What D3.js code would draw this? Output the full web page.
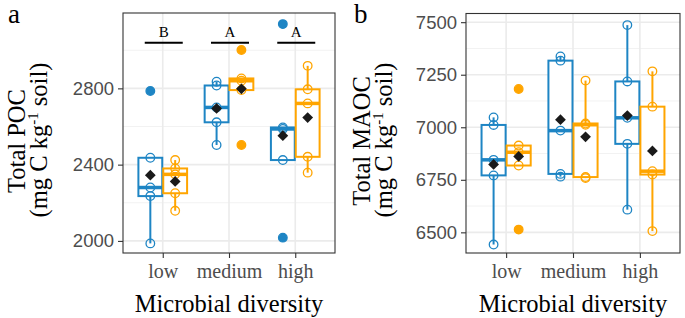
<!DOCTYPE html>
<html>
<head>
<meta charset="utf-8">
<script src="https://cdn.jsdelivr.net/npm/d3@7"></script>
<style>
  body { margin: 0; background: #fff; }
  svg { display: block; }
</style>
</head>
<body>
<svg id="chart" width="685" height="318"></svg>
<script>
const diversity = ["low", "medium", "high"];

// five replicates per box
const pocBlue = [[2436, 2280, 2235, 1987, 2786], [2835, 2815, 2700, 2622, 2503], [2017, 2424, 2587, 2595, 3137]];
const pocOrange = [[2424, 2380, 2349, 2250, 2158], [3001, 2852, 2840, 2791, 2503], [2918, 2795, 2721, 2441, 2358]];
const maocBlue = [[7047, 7011, 6845, 6771, 6442], [7337, 7317, 6984, 6778, 6765], [7486, 7218, 7045, 6921, 6608]];
const maocOrange = [[6513, 6818, 6881, 6913, 7182], [7222, 7018, 7012, 6763, 6758], [7266, 7098, 6791, 6775, 6506]];

const pocLetters = ["B", "A", "A"];
const pocTicks = [2000, 2400, 2800];
const maocTicks = [6500, 6750, 7000, 7250, 7500];

const blue = "#1e85c4";
const orange = "#ffa500";
const svg = d3.select("#chart");

function boxStats(vals) {
    var s = vals.slice().sort(d3.ascending);
    var q1 = d3.quantile(s, 0.25), med = d3.quantile(s, 0.5), q3 = d3.quantile(s, 0.75);
    var iqr = q3 - q1;
    var inside = s.filter(function(v) { return v >= q1 - 1.5 * iqr && v <= q3 + 1.5 * iqr; });
    return {
        q1: q1, med: med, q3: q3,
        lo: d3.min(inside), hi: d3.max(inside),
        out: s.filter(function(v) { return v < q1 - 1.5 * iqr || v > q3 + 1.5 * iqr; }),
        mean: d3.mean(s),
        vals: s
    };
}

function drawPanel(opt) {
    var x = d3.scalePoint().domain(diversity).range([opt.left, opt.right]).padding(0.6);
    var y = d3.scaleLinear().domain(opt.yDomain).range([opt.bottom, opt.top]);
    var step = x.step();
    var g = svg.append("g");

    // grid
    var minor = d3.range(opt.ticks.length - 1).map(function(i) { return (opt.ticks[i] + opt.ticks[i + 1]) / 2; });
    var extra = opt.ticks[opt.ticks.length - 1] + (opt.ticks[1] - opt.ticks[0]) / 2;
    if (y(extra) > opt.top) minor.push(extra);
    g.selectAll(".minor").data(minor).enter().append("line")
        .attr("x1", opt.left).attr("x2", opt.right)
        .attr("y1", function(d) { return y(d); }).attr("y2", function(d) { return y(d); })
        .attr("stroke", "#f2f2f2").attr("stroke-width", 1);
    g.selectAll(".major").data(opt.ticks).enter().append("line")
        .attr("x1", opt.left).attr("x2", opt.right)
        .attr("y1", function(d) { return y(d); }).attr("y2", function(d) { return y(d); })
        .attr("stroke", "#ebebeb").attr("stroke-width", 1.6);
    g.selectAll(".vmajor").data(diversity).enter().append("line")
        .attr("x1", function(d) { return x(d); }).attr("x2", function(d) { return x(d); })
        .attr("y1", opt.top).attr("y2", opt.bottom)
        .attr("stroke", "#ebebeb").attr("stroke-width", 1.6);

    var series = [{ data: opt.blue, color: blue, off: -0.1875 }, { data: opt.orange, color: orange, off: 0.1875 }];
    var boxW = step * 0.36;

    series.forEach(function(s) {
        var stats = s.data.map(boxStats);
        stats.forEach(function(st, i) {
            var cx = x(diversity[i]) + s.off * step;
            var bg = g.append("g");
            bg.append("line").attr("x1", cx).attr("x2", cx)
                .attr("y1", y(st.q3)).attr("y2", y(st.hi))
                .attr("stroke", s.color).attr("stroke-width", 2);
            bg.append("line").attr("x1", cx).attr("x2", cx)
                .attr("y1", y(st.q1)).attr("y2", y(st.lo))
                .attr("stroke", s.color).attr("stroke-width", 2);
            bg.append("rect")
                .attr("x", cx - boxW / 2).attr("width", boxW)
                .attr("y", y(st.q3)).attr("height", y(st.q1) - y(st.q3))
                .attr("fill", "#fff").attr("stroke", s.color).attr("stroke-width", 2);
            bg.append("line").attr("x1", cx - boxW / 2).attr("x2", cx + boxW / 2)
                .attr("y1", y(st.med)).attr("y2", y(st.med))
                .attr("stroke", s.color).attr("stroke-width", 3.5);
            bg.selectAll(".out").data(st.out).enter().append("circle")
                .attr("cx", cx).attr("cy", function(d) { return y(d); })
                .attr("r", 4.3).attr("fill", s.color);
            bg.selectAll(".pt").data(st.vals).enter().append("circle")
                .attr("cx", cx).attr("cy", function(d) { return y(d); })
                .attr("r", 4.3).attr("fill", "none")
                .attr("stroke", s.color).attr("stroke-width", 1.3);
            bg.append("path")
                .attr("d", d3.symbol().type(d3.symbolSquare).size(58)())
                .attr("transform", "translate(" + cx + "," + y(st.mean) + ") rotate(45)")
                .attr("fill", "#1a1a1a");
        });
    });

    // significance letters
    if (opt.letters) {
        opt.letters.forEach(function(l, i) {
            var cx = x(diversity[i]) + 1;
            g.append("line").attr("x1", cx - 19).attr("x2", cx + 19)
                .attr("y1", 42.7).attr("y2", 42.7)
                .attr("stroke", "#000").attr("stroke-width", 2);
            g.append("text").attr("x", cx).attr("y", 36.7)
                .attr("text-anchor", "middle")
                .style("font-family", "'Liberation Serif', 'Times New Roman', serif")
                .style("font-size", "15px")
                .text(l);
        });
    }

    // border
    g.append("rect")
        .attr("x", opt.left).attr("y", opt.top)
        .attr("width", opt.right - opt.left).attr("height", opt.bottom - opt.top)
        .attr("fill", "none").attr("stroke", "#333").attr("stroke-width", 1.1);

    // axes
    var ya = g.append("g").attr("transform", "translate(" + opt.left + ",0)")
        .call(d3.axisLeft(y).tickValues(opt.ticks).tickSize(5).tickPadding(4).tickFormat(d3.format("d")));
    ya.select(".domain").remove();
    ya.selectAll("line").attr("stroke", "#333").attr("stroke-width", 1.1);
    ya.selectAll("text")
        .style("font-family", "'Liberation Sans', Arial, sans-serif")
        .style("font-size", "18.5px").attr("fill", "#4d4d4d");

    var xa = g.append("g").attr("transform", "translate(0," + opt.bottom + ")")
        .call(d3.axisBottom(x).tickSize(5).tickPadding(4));
    xa.select(".domain").remove();
    xa.selectAll("line").attr("stroke", "#333").attr("stroke-width", 1.1);
    xa.selectAll("text").attr("y", 25).attr("dy", 0)
        .style("font-family", "'Liberation Serif', 'Times New Roman', serif")
        .style("font-size", "20px").attr("fill", "#4d4d4d");

    var serif = "'Liberation Serif', 'Times New Roman', serif";
    g.append("text").attr("x", (opt.left + opt.right) / 2).attr("y", 311.5)
        .attr("text-anchor", "middle")
        .style("font-family", serif).style("font-size", "24.5px")
        .text("Microbial diversity");

    var t1 = g.append("text")
        .attr("transform", "translate(" + opt.titleX + ",141) rotate(-90)")
        .attr("text-anchor", "middle")
        .style("font-family", serif).style("font-size", "24.5px");
    t1.text(opt.title);

    var t2 = g.append("text")
        .attr("transform", "translate(" + (opt.titleX + 22) + ",140) rotate(-90)")
        .attr("text-anchor", "middle")
        .style("font-family", serif).style("font-size", "24.5px");
    t2.append("tspan").text("(mg C kg");
    t2.append("tspan").attr("dy", -9).style("font-size", "15px").text("-1");
    t2.append("tspan").attr("dy", 9).text(" soil)");

    g.append("text").attr("x", opt.tagX).attr("y", 23)
        .style("font-family", serif).style("font-size", "27px")
        .text(opt.tag);
}

drawPanel({
    left: 123, right: 335, top: 13, bottom: 253,
    yDomain: [1936.6, 3195.2],
    ticks: pocTicks, blue: pocBlue, orange: pocOrange,
    letters: pocLetters, title: "Total POC", titleX: 25, tag: "a", tagX: 8
});

drawPanel({
    left: 466, right: 680, top: 13.5, bottom: 253,
    yDomain: [6401.7, 7541.3],
    ticks: maocTicks, blue: maocBlue, orange: maocOrange,
    letters: null, title: "Total MAOC", titleX: 370, tag: "b", tagX: 354
});
</script>
</body>
</html>
